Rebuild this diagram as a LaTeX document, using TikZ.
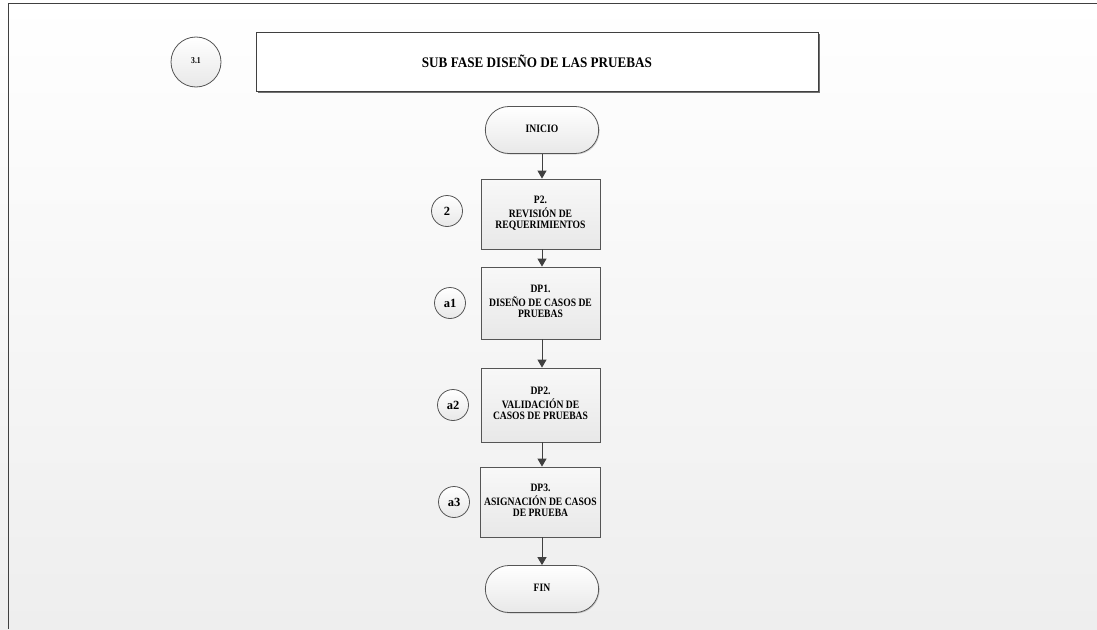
\documentclass[tikz,border=0pt]{standalone}
\usepackage{fontspec}
\setmainfont{Liberation Serif}
\usetikzlibrary{shapes.misc,arrows.meta,shadows}
\definecolor{edgegrey}{HTML}{555555}
\definecolor{linegrey}{HTML}{404040}
\definecolor{bgbottom}{HTML}{EEEEEE}
\definecolor{boxtop}{HTML}{F8F8F8}
\definecolor{boxbottom}{HTML}{E8E8E8}
% narrow, tall bold caption lines
\newcommand\narrowlines[1]{\scalebox{0.85}[1]{\begin{tabular}{@{}c@{}}#1\end{tabular}}}
\tikzset{
  boxfont/.style={font=\bfseries\fontsize{11.3}{11.8}\selectfont},
  stepbox/.style={draw=edgegrey, line width=0.8pt, top color=boxtop, bottom color=boxbottom,
    minimum width=119pt, align=center, boxfont,
    drop shadow={shadow xshift=1.2pt, shadow yshift=-1.2pt, fill=black, opacity=0.25}},
  terminal/.style={rounded rectangle, draw=edgegrey, line width=0.8pt, top color=white,
    bottom color=boxbottom, minimum width=120pt, minimum height=47pt, boxfont,
    drop shadow={shadow xshift=1pt, shadow yshift=-1pt, fill=black, opacity=0.15}},
  tag/.style={circle, draw=edgegrey, line width=0.8pt, top color=white, bottom color=boxbottom,
    minimum size=31pt, inner sep=0pt, font=\bfseries\fontsize{12.5}{12.5}\selectfont},
  flow/.style={draw=linegrey, line width=1pt, -{Triangle[length=8pt,width=9pt]}},
  frameline/.style={draw=linegrey, line width=0.9pt}
}
\begin{document}
\begin{tikzpicture}[x=1pt,y=-1pt]
\useasboundingbox (0,0) rectangle (1097,629);
% page background and frame
\shade[top color=white, bottom color=bgbottom] (0,0) rectangle (1097,629);
\draw[frameline] (1097,3.5) -- (8,3.5) -- (8,629);

% header
\node[tag, minimum size=50pt, font=\bfseries\fontsize{9}{9}\selectfont] (c31) at (196,62) {\narrowlines{3.1}};
\node[draw=linegrey, line width=0.9pt, fill=white, minimum width=562pt, minimum height=59pt,
  font=\bfseries\fontsize{14.6}{15}\selectfont,
  drop shadow={shadow xshift=2pt, shadow yshift=-2pt, fill=black, opacity=0.55}]
  (title) at (537,61.5) {\scalebox{0.9}[1]{SUB FASE DISEÑO DE LAS PRUEBAS}};

% flow
\node[terminal] (inicio) at (542,130) {\narrowlines{INICIO}};
\node[stepbox, minimum height=70pt] (p2) at (540.5,214) {\narrowlines{P2.\\REVISIÓN DE\\REQUERIMIENTOS}};
\node[stepbox, minimum height=72pt] (dp1) at (540.5,303) {\narrowlines{DP1.\\DISEÑO DE CASOS DE\\PRUEBAS}};
\node[stepbox, minimum height=74pt] (dp2) at (540.5,405) {\narrowlines{DP2.\\VALIDACIÓN DE\\CASOS DE PRUEBAS}};
\node[stepbox, minimum height=70pt] (dp3) at (540.5,502) {\narrowlines{DP3.\\ASIGNACIÓN DE CASOS\\DE PRUEBA}};
\node[terminal] (fin) at (542,589) {\narrowlines{FIN}};

% reference tags
\node[tag] (t2) at (447,211) {2};
\node[tag] (ta1) at (450,303) {a1};
\node[tag] (ta2) at (453,405) {a2};
\node[tag] (ta3) at (454,502) {a3};

% connectors
\draw[flow] (inicio.south) -- (inicio.south |- p2.north);
\draw[flow] (inicio.south |- p2.south) -- (inicio.south |- dp1.north);
\draw[flow] (inicio.south |- dp1.south) -- (inicio.south |- dp2.north);
\draw[flow] (inicio.south |- dp2.south) -- (inicio.south |- dp3.north);
\draw[flow] (inicio.south |- dp3.south) -- (fin.north);
\end{tikzpicture}
\end{document}
